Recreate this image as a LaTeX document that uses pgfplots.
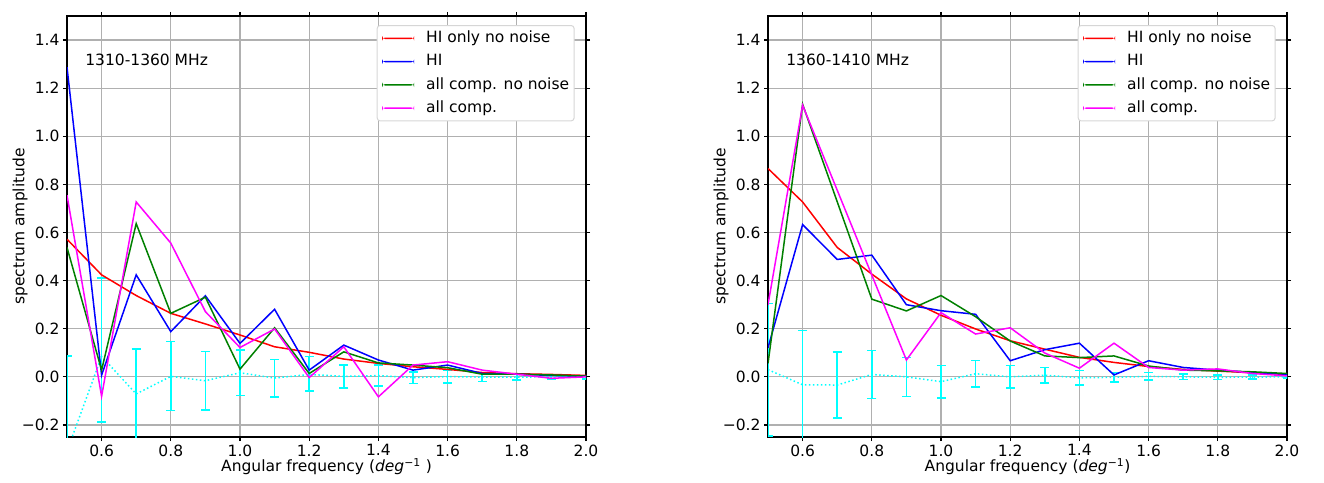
\documentclass[border=0pt]{standalone}
\usepackage{fontspec}
\setmainfont{DejaVu Sans}
\usepackage{pgfplots}
\pgfplotsset{compat=1.18}
\usepackage{pgfplotstable}
\newcommand\fs{\fontsize{15.5}{18.6}\selectfont}

\pgfplotstableread{
x red blue green mag
0.5 0.572 1.287 0.538 0.755
0.6 0.424 0.007 0.028 -0.081
0.7 0.338 0.424 0.637 0.727
0.8 0.264 0.188 0.264 0.556
0.9 0.220 0.337 0.331 0.271
1.0 0.174 0.139 0.032 0.122
1.1 0.125 0.281 0.204 0.199
1.2 0.102 0.028 0.014 -0.003
1.3 0.074 0.132 0.104 0.125
1.4 0.056 0.070 0.058 -0.083
1.5 0.042 0.028 0.049 0.049
1.6 0.031 0.049 0.038 0.063
1.7 0.018 0.014 0.011 0.028
1.8 0.013 0.011 0.011 0.011
1.9 0.010 0.006 0.008 -0.006
2.0 0.006 0.003 0.003 0.000
}\leftdata

\pgfplotstableread{
x m ep em
0.5 -0.309 0.395 0.395
0.6 0.085 0.325 0.273
0.7 -0.071 0.187 0.187
0.8 0.002 0.145 0.142
0.9 -0.016 0.121 0.122
1.0 0.017 0.094 0.095
1.1 -0.005 0.078 0.079
1.2 0.010 0.074 0.069
1.3 0.002 0.047 0.048
1.4 0.005 0.044 0.043
1.5 -0.003 0.024 0.025
1.6 0.001 0.027 0.026
1.7 -0.001 0.018 0.018
1.8 -0.001 0.012 0.013
1.9 0.000 0.008 0.008
2.0 -0.001 0.007 0.007
}\leftnoise

\pgfplotstableread{
x red blue green mag
0.5 0.866 0.121 0.056 0.300
0.6 0.727 0.633 1.133 1.129
0.7 0.538 0.488 0.728 0.776
0.8 0.427 0.506 0.323 0.423
0.9 0.324 0.300 0.274 0.070
1.0 0.256 0.275 0.338 0.267
1.1 0.199 0.260 0.250 0.178
1.2 0.150 0.067 0.149 0.204
1.3 0.115 0.113 0.087 0.099
1.4 0.081 0.140 0.080 0.036
1.5 0.060 0.008 0.087 0.140
1.6 0.043 0.067 0.045 0.039
1.7 0.031 0.039 0.028 0.028
1.8 0.024 0.028 0.025 0.033
1.9 0.017 0.018 0.021 0.014
2.0 0.010 0.011 0.014 0.004
}\rightdata

\pgfplotstableread{
x m ep em
0.5 0.030 0.275 0.275
0.6 -0.033 0.225 0.225
0.7 -0.034 0.138 0.138
0.8 0.010 0.100 0.100
0.9 0.000 0.081 0.081
1.0 -0.020 0.067 0.067
1.1 0.013 0.055 0.055
1.2 0.000 0.047 0.047
1.3 0.007 0.032 0.032
1.4 -0.004 0.030 0.030
1.5 -0.002 0.020 0.020
1.6 0.002 0.016 0.016
1.7 0.000 0.011 0.011
1.8 -0.002 0.010 0.010
1.9 -0.001 0.008 0.008
2.0 0.000 0.005 0.005
}\rightnoise

\definecolor{mred}{RGB}{255,0,0}
\definecolor{mblue}{RGB}{0,0,255}
\definecolor{mgreen}{RGB}{0,128,0}
\definecolor{mmag}{RGB}{255,0,255}
\definecolor{mcyan}{RGB}{0,255,255}
\definecolor{mgrid}{RGB}{176,176,176}
\definecolor{mleg}{RGB}{214,214,214}

\pgfplotsset{
  myax/.style={
    scale only axis, width=519pt, height=421pt,
    anchor=south west,
    xmin=0.5, xmax=2.0, ymin=-0.25, ymax=1.5,
    xtick={0.6,0.8,1.0,1.2,1.4,1.6,1.8,2.0},
    xticklabels={0.6,0.8,1.0,1.2,1.4,1.6,1.8,2.0},
    ytick={-0.2,0,0.2,0.4,0.6,0.8,1.0,1.2,1.4},
    yticklabels={−0.2,0.0,0.2,0.4,0.6,0.8,1.0,1.2,1.4},
    grid=major, major grid style={draw=mgrid, line width=1.2pt},
    axis line style={black, line width=1.2pt},
    tick align=outside, major tick length=4pt,
    tick style={black, line width=1.2pt},
    tick label style={font=\fs},
    label style={font=\fs},
    ylabel={spectrum amplitude},
    xlabel style={at={(axis description cs:0.5,-0.0713)}, anchor=center},
    ylabel style={at={(axis description cs:-0.0906,0.5)}, anchor=center},
    legend style={at={(axis description cs:0.5967,0.9786)}, anchor=north west,
      draw=mleg, line width=1pt, fill=white,
      rounded corners=3pt, inner sep=5pt, font=\fs, row sep=7.8pt, column sep=12pt,
      nodes={inner sep=0pt, text height=12pt, text depth=3.5pt}},
    legend cell align=left,
    legend image code/.code={\fill[#1, draw=none] (0pt,-0.75pt) rectangle (32pt,0.75pt);},
  },
  ln/.style={color=#1, line width=1.5pt},
  noise/.style={mcyan, line width=1.5pt, dash pattern=on 1.5pt off 2.5pt, forget plot,
    error bars/.cd, y dir=both, y explicit,
    error bar style={mcyan, line width=1.7pt, solid},
    error mark options={mcyan, line width=1.5pt, mark size=4.5pt, rotate=90, solid}},
}

\begin{document}
\begin{tikzpicture}
\path[use as bounding box] (0pt,0pt) rectangle (1324pt,482pt);

\begin{axis}[myax, at={(67pt,45pt)},
  xlabel={Angular frequency ({\itshape deg}\textsuperscript{−1} )}]
\addplot[noise] table[x=x, y=m, y error plus=ep, y error minus=em] {\leftnoise};
\addplot[ln=mred] table[x=x, y=red] {\leftdata};
\addlegendentry{HI only no noise}
\addplot[ln=mblue] table[x=x, y=blue] {\leftdata};
\addlegendentry{HI}
\addplot[ln=mgreen] table[x=x, y=green] {\leftdata};
\addlegendentry{all comp. no noise}
\addplot[ln=mmag] table[x=x, y=mag] {\leftdata};
\addlegendentry{all comp.}
\node[anchor=west, font=\fs, inner sep=0pt] at (axis description cs:0.035,0.895) {1310-1360 MHz};
\node[anchor=south west, font=\fs, inner sep=0pt] at (axis description cs:0,1) [yshift=1.5pt] {1e−9};
\end{axis}

\begin{axis}[myax, at={(768pt,45pt)},
  xlabel={Angular frequency ({\itshape deg}\textsuperscript{−1})}]
\addplot[noise] table[x=x, y=m, y error plus=ep, y error minus=em] {\rightnoise};
\addplot[ln=mred] table[x=x, y=red] {\rightdata};
\addlegendentry{HI only no noise}
\addplot[ln=mblue] table[x=x, y=blue] {\rightdata};
\addlegendentry{HI}
\addplot[ln=mgreen] table[x=x, y=green] {\rightdata};
\addlegendentry{all comp. no noise}
\addplot[ln=mmag] table[x=x, y=mag] {\rightdata};
\addlegendentry{all comp.}
\node[anchor=west, font=\fs, inner sep=0pt] at (axis description cs:0.035,0.895) {1360-1410 MHz};
\node[anchor=south west, font=\fs, inner sep=0pt] at (axis description cs:0,1) [yshift=1.5pt] {1e−9};
\end{axis}
\end{tikzpicture}
\end{document}
